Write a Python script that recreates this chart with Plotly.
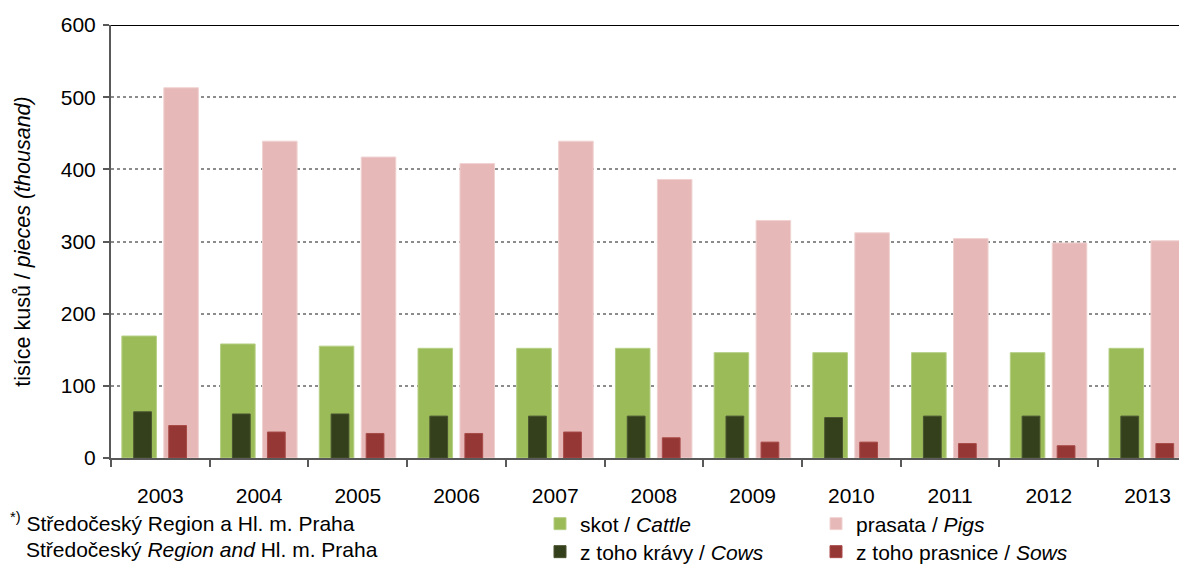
import plotly.graph_objects as go

years = ["2003", "2004", "2005", "2006", "2007", "2008", "2009", "2010", "2011", "2012", "2013"]
cattle = [169, 158, 155, 152, 152, 152, 146, 146, 146, 146, 152]
pigs = [513, 439, 417, 408, 439, 386, 329, 312, 304, 298, 301]
cows = [64, 61, 61, 58, 58, 58, 58, 56, 58, 58, 58]
sows = [45, 36, 34, 34, 36, 28, 22, 22, 20, 17, 20]

FONT = "Liberation Sans, Arial, sans-serif"
OFF = 8  # page body margin
W, H = 1187 - OFF, 569 - OFF
# plot area in page pixels
L, R, T, B = 111, 1187, 25, 458.3
PW, PH = R - L, B - T


def px(x):
    return (x - L) / PW


def py(y):
    return (B - y) / PH


fig = go.Figure()
fig.add_trace(go.Bar(x=years, y=cattle, name="skot / <i>Cattle</i>", offset=-0.39, width=0.35,
                     marker=dict(color="#9BBB59", line=dict(color="#B5CF84", width=1)), legend="legend"))
fig.add_trace(go.Bar(x=years, y=pigs, name="prasata / <i>Pigs</i>", offset=0.035, width=0.35,
                     marker=dict(color="#E6B9B8", line=dict(color="#F0D2D1", width=1)), legend="legend"))
fig.add_trace(go.Bar(x=years, y=cows, name="z toho krávy / <i>Cows</i>", offset=-0.27, width=0.18,
                     marker=dict(color="#343F1B", line=dict(color="#4A5530", width=1)), legend="legend2"))
fig.add_trace(go.Bar(x=years, y=sows, name="z toho prasnice / <i>Sows</i>", offset=0.085, width=0.18,
                     marker=dict(color="#953735", line=dict(color="#A84B49", width=1)), legend="legend2"))

FS = 21
legend_common = dict(orientation="h", xref="container", yref="container", xanchor="left", yanchor="middle",
                     font=dict(family=FONT, size=FS, color="#000000"), bgcolor="rgba(0,0,0,0)",
                     entrywidth=231, entrywidthmode="pixels", itemwidth=30, itemclick=False)

fig.update_layout(
    width=W, height=H,
    margin=dict(l=L - OFF, r=0, t=T - OFF, b=H - (B - OFF), pad=0, autoexpand=False),
    plot_bgcolor="white", paper_bgcolor="white",
    barmode="overlay",
    font=dict(family=FONT, size=FS, color="#000000"),
    xaxis=dict(type="category", range=[-0.5, 10.4], showline=True, linecolor="#595959", linewidth=2,
               ticks="outside", tickson="boundaries", ticklen=7, tickwidth=2, tickcolor="#595959",
               showgrid=False, tickfont=dict(size=FS, family=FONT), ticklabelstandoff=18, automargin=False),
    yaxis=dict(range=[0, 600], tickvals=[0, 100, 200, 300, 400, 500, 600], showline=True, linecolor="#595959",
               linewidth=2, ticks="outside", ticklen=6, tickwidth=2, tickcolor="#595959",
               showgrid=True, gridcolor="#8C8C8C", gridwidth=1.5, griddash="dot", zeroline=False,
               tickfont=dict(size=FS, family=FONT), ticklabelstandoff=3, automargin=False,
               title=dict(text="tisíce kusů / <i>pieces (thousand)</i>", font=dict(size=21.5, family=FONT), standoff=24)),
    legend=dict(x=(572 - 40) / W, y=1 - (524 - OFF) / H, **legend_common),
    legend2=dict(x=(572 - 40) / W, y=1 - (552 - OFF) / H, **legend_common),
    showlegend=True,
)

fig.add_shape(type="line", xref="paper", yref="y", x0=0, x1=1, y0=600, y1=600,
              line=dict(color="#000000", width=2), layer="below")

fig.add_annotation(xref="paper", yref="paper", x=px(8), y=py(522), xanchor="left", yanchor="middle",
                   text="<sup>*)</sup> Středočeský Region a Hl. m. Praha", showarrow=False,
                   font=dict(family=FONT, size=FS, color="#000000"))
fig.add_annotation(xref="paper", yref="paper", x=px(24), y=py(550), xanchor="left", yanchor="middle",
                   text="Středočeský <i>Region and</i> Hl. m. Praha", showarrow=False,
                   font=dict(family=FONT, size=FS, color="#000000"))

fig.write_html("out.html")
